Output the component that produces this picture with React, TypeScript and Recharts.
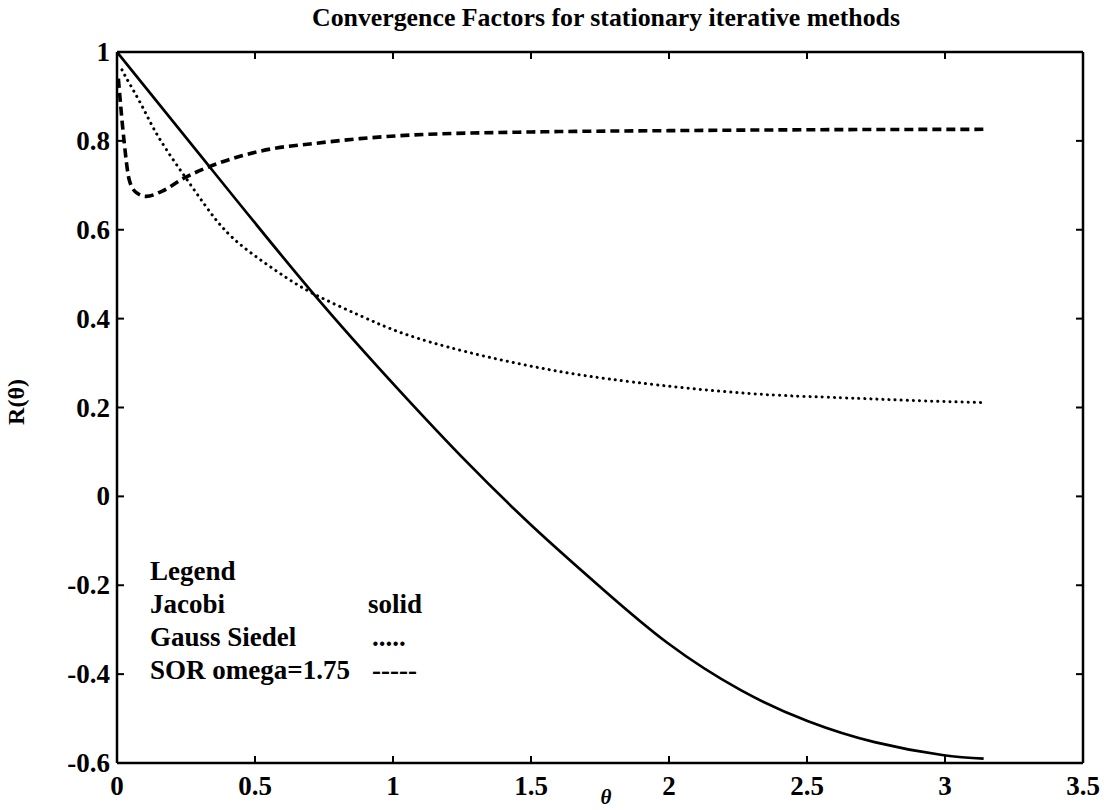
import React from 'react';
import { LineChart, Line, XAxis, YAxis, Customized } from 'recharts';

// ---- data ----
const jacobiTheta = [0, 0.335, 0.709, 1.025, 1.268, 1.51, 1.753, 1.995, 2.26, 2.504, 2.745, 2.99, 3.14];
const jacobiR = [1.0, 0.742, 0.458, 0.237, 0.077, -0.07, -0.205, -0.33, -0.436, -0.506, -0.553, -0.582, -0.59];

const gsTheta = [0.018, 0.036, 0.091, 0.153, 0.251, 0.337, 0.39, 0.46, 0.578, 0.709, 0.88, 1.04, 1.268, 1.559, 1.873, 2.28, 2.625, 2.868, 3.14];
const gsR = [0.96, 0.939, 0.878, 0.806, 0.715, 0.64, 0.6, 0.56, 0.507, 0.457, 0.407, 0.366, 0.325, 0.286, 0.257, 0.232, 0.222, 0.216, 0.211];

const sorTheta = [0.005, 0.025, 0.044, 0.069, 0.105, 0.164, 0.236, 0.335, 0.455, 0.578, 0.698, 0.88, 1.062, 1.5, 2.0, 2.5, 3.14];
const sorR = [0.94, 0.803, 0.713, 0.684, 0.675, 0.687, 0.714, 0.742, 0.767, 0.784, 0.793, 0.805, 0.813, 0.82, 0.823, 0.825, 0.826];

const xTicks = [0, 0.5, 1, 1.5, 2, 2.5, 3, 3.5];
const yTicks = [-0.6, -0.4, -0.2, 0, 0.2, 0.4, 0.6, 0.8, 1];

const titleText = 'Convergence Factors for stationary iterative methods';
const xLabel = 'θ';
const yLabel = 'R(θ)';
const legendRows = ['Legend', 'Jacobi', 'Gauss Siedel', 'SOR omega=1.75'];
const legendStyles = ['', 'solid', '.....', '-----'];

const toPts = (t: number[], r: number[]) => t.map((v, i) => ({ t: v, r: r[i] }));
const jacobi = toPts(jacobiTheta, jacobiR);
const gauss = toPts(gsTheta, gsR);
const sor = toPts(sorTheta, sorR);

const W = 1104;
const H = 810;
// plot area: left 117, right 1083, top 52, bottom 763 (axes take 1px each)
const margin = { top: 51, right: 20, bottom: 46, left: 116 };
const FONT = '"Liberation Serif", "Times New Roman", serif';
const TICK = 7;

const BottomTick = (p: any) => (
  <g>
    <line x1={p.x} x2={p.x} y1={p.y} y2={p.y - TICK} stroke="#000" strokeWidth={2} />
    <text x={p.x} y={p.y + 32} textAnchor="middle" fontFamily={FONT} fontWeight="bold" fontSize={27} fill="#000">
      {String(p.payload.value)}
    </text>
  </g>
);
const TopTick = (p: any) => (
  <line x1={p.x} x2={p.x} y1={p.y} y2={p.y + TICK} stroke="#000" strokeWidth={2} />
);
const LeftTick = (p: any) => (
  <g>
    <line x1={p.x} x2={p.x + TICK} y1={p.y} y2={p.y} stroke="#000" strokeWidth={2} />
    <text x={p.x - 7} y={p.y + 9} textAnchor="end" fontFamily={FONT} fontWeight="bold" fontSize={27} fill="#000">
      {String(p.payload.value)}
    </text>
  </g>
);
const RightTick = (p: any) => (
  <line x1={p.x} x2={p.x - TICK} y1={p.y} y2={p.y} stroke="#000" strokeWidth={2} />
);

const Annotations = () => (
  <g fontFamily={FONT} fill="#000">
    <text x={606} y={26} textAnchor="middle" fontSize={26} fontWeight="bold" textLength={588} lengthAdjust="spacingAndGlyphs">
      {titleText}
    </text>
    <text x={606} y={804} textAnchor="middle" fontSize={21} fontStyle="italic" fontWeight="bold">
      {xLabel}
    </text>
    <text x={24} y={402} textAnchor="middle" fontSize={24} fontWeight="bold" transform="rotate(-90 24 402)">
      {yLabel}
    </text>
    {legendRows.map((s, i) => (
      <text key={'l' + i} x={150} y={580 + i * 33} fontSize={27} fontWeight="bold">
        {s}
      </text>
    ))}
    {legendStyles.map((s, i) =>
      s ? (
        <text key={'s' + i} x={i === 1 ? 368 : 372} y={580 + i * 33} fontSize={27} fontWeight="bold">
          {s}
        </text>
      ) : null
    )}
  </g>
);

const axisLine = { stroke: '#000', strokeWidth: 2.5 };

export default function App() {
  return (
    <div style={{ position: 'absolute', left: 0, top: 0, width: W, height: H, background: '#fff' }}>
      <LineChart width={W} height={H} margin={margin}>
        <XAxis xAxisId="b" dataKey="t" type="number" domain={[0, 3.5]} ticks={xTicks} interval={0}
          orientation="bottom" height={1} tickSize={0} tickMargin={0} tickLine={false}
          axisLine={axisLine} tick={<BottomTick />} allowDataOverflow />
        <XAxis xAxisId="t" dataKey="t" type="number" domain={[0, 3.5]} ticks={xTicks} interval={0}
          orientation="top" height={1} tickSize={0} tickMargin={0} tickLine={false}
          axisLine={axisLine} tick={<TopTick />} allowDataOverflow />
        <YAxis yAxisId="l" type="number" domain={[-0.6, 1]} ticks={yTicks} interval={0}
          orientation="left" width={1} tickSize={0} tickMargin={0} tickLine={false}
          axisLine={axisLine} tick={<LeftTick />} allowDataOverflow />
        <YAxis yAxisId="r" type="number" domain={[-0.6, 1]} ticks={yTicks} interval={0}
          orientation="right" width={1} tickSize={0} tickMargin={0} tickLine={false}
          axisLine={axisLine} tick={<RightTick />} allowDataOverflow />
        <Line xAxisId="b" yAxisId="l" data={jacobi} dataKey="r" type="natural" stroke="#000"
          strokeWidth={2.7} dot={false} activeDot={false} isAnimationActive={false} />
        <Line xAxisId="b" yAxisId="l" data={gauss} dataKey="r" type="natural" stroke="#000"
          strokeWidth={3} strokeDasharray="0.1 6" strokeLinecap="round" dot={false} activeDot={false}
          isAnimationActive={false} />
        <Line xAxisId="b" yAxisId="l" data={sor} dataKey="r" type="monotone" stroke="#000"
          strokeWidth={3.6} strokeDasharray="9 5" dot={false} activeDot={false} isAnimationActive={false} />
        <Customized component={<Annotations />} />
      </LineChart>
    </div>
  );
}
